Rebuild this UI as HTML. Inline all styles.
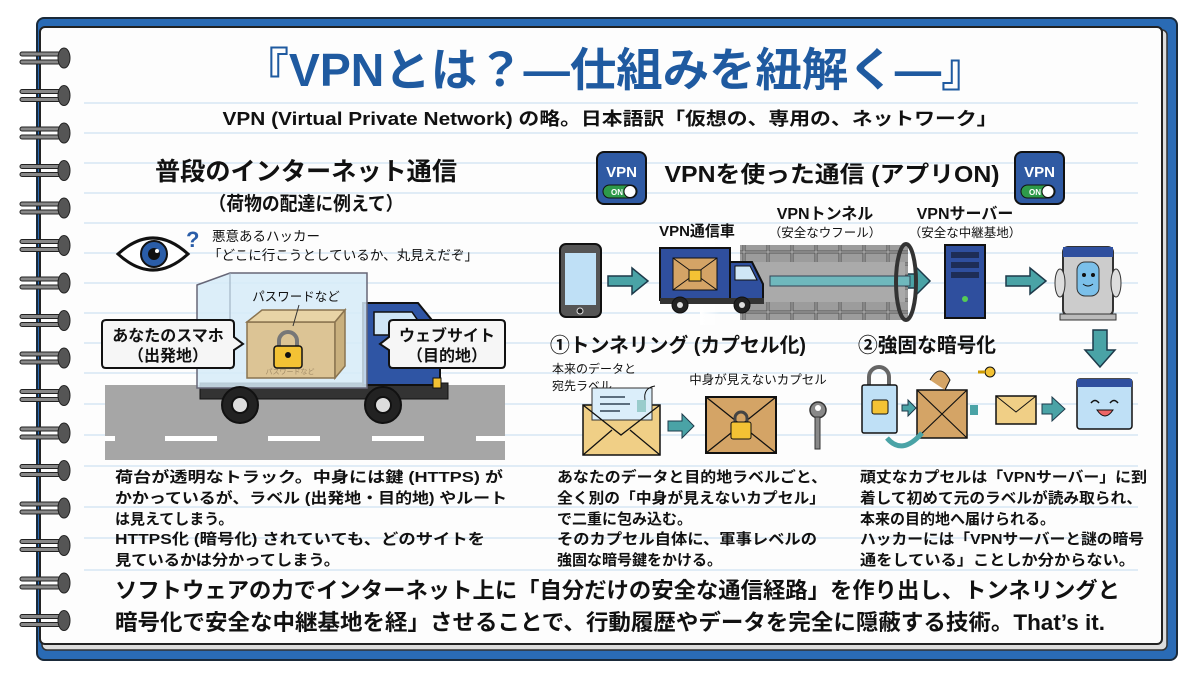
<!DOCTYPE html>
<html><head><meta charset="utf-8"><style>
html,body{margin:0;padding:0;background:#fff;}
svg{display:block;}
text{font-family:"Liberation Sans","Noto Sans CJK JP",sans-serif;fill:#111;}
.b{font-weight:bold;}
</style></head><body>
<svg width="1200" height="675" viewBox="0 0 1200 675" xmlns="http://www.w3.org/2000/svg">
<defs>
<pattern id="brick" width="24" height="12" patternUnits="userSpaceOnUse">
<rect width="24" height="12" fill="#b8b8b8"/>
<rect x="1" y="1" width="22" height="10" fill="#9c9c9c" stroke="#555" stroke-width="1"/>
</pattern>
<linearGradient id="fade" x1="0" x2="1"><stop offset="0" stop-color="#fff" stop-opacity="1"/><stop offset="0.25" stop-color="#fff" stop-opacity="0"/></linearGradient>
</defs>
<!-- cover -->
<rect x="37" y="18" width="1140" height="642" rx="7" fill="#2a6bb5" stroke="#1a2a3a" stroke-width="2"/>
<rect x="42" y="30" width="1125" height="620" rx="5" fill="#ddd" stroke="#333" stroke-width="1.5"/>
<rect x="40" y="27" width="1122" height="617" rx="5" fill="#fdfdfd" stroke="#222" stroke-width="2"/>
<!-- ruled lines -->
<g stroke="#cfe3f2" stroke-width="1.2">
<line x1="84" y1="103" x2="1138" y2="103"/><line x1="84" y1="133" x2="1138" y2="133"/><line x1="84" y1="163" x2="1138" y2="163"/><line x1="84" y1="193" x2="1138" y2="193"/><line x1="84" y1="223" x2="1138" y2="223"/><line x1="84" y1="253" x2="1138" y2="253"/><line x1="84" y1="283" x2="1138" y2="283"/><line x1="84" y1="313" x2="1138" y2="313"/><line x1="84" y1="343" x2="1138" y2="343"/><line x1="84" y1="373" x2="1138" y2="373"/><line x1="84" y1="404" x2="1138" y2="404"/><line x1="84" y1="435" x2="1138" y2="435"/><line x1="84" y1="466" x2="1138" y2="466"/><line x1="84" y1="507" x2="1138" y2="507"/><line x1="84" y1="538" x2="1138" y2="538"/><line x1="84" y1="570" x2="1138" y2="570"/>
</g>
<!-- spiral rings -->
<g id="rings">
<g transform="translate(0,58)"><rect x="20" y="-6" width="46" height="4" rx="2" fill="#888" stroke="#222"/><rect x="20" y="2" width="46" height="4" rx="2" fill="#888" stroke="#222"/><ellipse cx="64" cy="0" rx="6" ry="10" fill="#555" stroke="#222"/></g>
</g>
<use href="#rings" y="37.5"/><use href="#rings" y="75"/><use href="#rings" y="112.5"/><use href="#rings" y="150"/><use href="#rings" y="187.5"/><use href="#rings" y="225"/><use href="#rings" y="262.5"/><use href="#rings" y="300"/><use href="#rings" y="337.5"/><use href="#rings" y="375"/><use href="#rings" y="412.5"/><use href="#rings" y="450"/><use href="#rings" y="487.5"/><use href="#rings" y="525"/><use href="#rings" y="562.5"/>

<!-- title -->
<text x="615" y="86" text-anchor="middle" class="b" font-size="46" style="fill:#1f5aa0" textLength="745" lengthAdjust="spacingAndGlyphs">『VPNとは？―仕組みを紐解く―』</text>
<text x="610" y="125" text-anchor="middle" class="b" font-size="18" textLength="775" lengthAdjust="spacingAndGlyphs">VPN (Virtual Private Network) の略。日本語訳「仮想の、専用の、ネットワーク」</text>

<!-- left heading -->
<text x="306" y="180" text-anchor="middle" class="b" font-size="25" textLength="302" lengthAdjust="spacingAndGlyphs">普段のインターネット通信</text>
<text x="306" y="210" text-anchor="middle" class="b" font-size="19" textLength="195" lengthAdjust="spacingAndGlyphs">（荷物の配達に例えて）</text>

<!-- eye -->
<path d="M118 254 Q153 222 188 254 Q153 286 118 254Z" fill="#fff" stroke="#111" stroke-width="3"/>
<circle cx="154" cy="254" r="13" fill="#2a5da8" stroke="#111" stroke-width="2"/>
<circle cx="154" cy="254" r="6" fill="#111"/><circle cx="157" cy="251" r="2" fill="#fff"/>
<text x="186" y="247" class="b" font-size="22" style="fill:#2a5da8">?</text>
<text x="212" y="241" font-size="13.5">悪意あるハッカー</text>
<text x="208" y="260" font-size="13.5" textLength="270" lengthAdjust="spacingAndGlyphs">「どこに行こうとしているか、丸見えだぞ」</text>

<!-- road -->
<rect x="105" y="385" width="400" height="75" fill="#a6a6a6"/>
<g fill="#fff"><rect x="105" y="436" width="10" height="5"/><rect x="165" y="436" width="52" height="5"/><rect x="268" y="436" width="52" height="5"/><rect x="372" y="436" width="52" height="5"/><rect x="476" y="436" width="29" height="5"/></g>
<!-- truck -->
<rect x="200" y="383" width="248" height="16" fill="#333" stroke="#111"/>
<path d="M363 303 L418 303 L440 330 L440 385 L363 385Z" fill="#2f55a4" stroke="#111" stroke-width="2"/>
<path d="M374 312 L412 312 L428 335 L374 335Z" fill="#cfe6f6" stroke="#111" stroke-width="1.5"/>
<rect x="433" y="378" width="8" height="10" fill="#f3c234" stroke="#111"/>
<path d="M197 285 L230 273 L367 273 L367 388 L197 388Z" fill="#d6ebf8" fill-opacity="0.85" stroke="#667" stroke-width="1.5"/>
<line x1="230" y1="273" x2="230" y2="370" stroke="#9ab"/>
<rect x="247" y="322" width="88" height="56" fill="#dcc495" stroke="#8a7450" stroke-width="1.5"/>
<path d="M247 322 L262 310 L345 310 L335 322Z" fill="#e8d4a6" stroke="#8a7450" stroke-width="1.5"/>
<path d="M335 322 L345 310 L345 366 L335 378Z" fill="#c9b07e" stroke="#8a7450" stroke-width="1.5"/>
<path d="M279 347 v-6 a9 9 0 0 1 18 0 v6" fill="none" stroke="#777" stroke-width="4"/>
<rect x="274" y="346" width="28" height="22" rx="3" fill="#f3c234" stroke="#111" stroke-width="1.5"/>
<circle cx="288" cy="355" r="3" fill="#111"/>
<line x1="299" y1="305" x2="293" y2="326" stroke="#333"/>
<text x="296" y="301" text-anchor="middle" font-size="12.5">パスワードなど</text>
<text x="290" y="374" text-anchor="middle" font-size="7" style="fill:#a08a66">パスワードなど</text>
<g stroke="#111" stroke-width="2"><circle cx="240" cy="405" r="18" fill="#222"/><circle cx="240" cy="405" r="8" fill="#ddd"/><circle cx="383" cy="405" r="18" fill="#222"/><circle cx="383" cy="405" r="8" fill="#ddd"/></g>
<!-- bubbles -->
<path d="M106 320 H230 Q234 320 234 324 V337 L243 344 L234 350 V364 Q234 368 230 368 H106 Q102 368 102 364 V324 Q102 320 106 320Z" fill="#f6f6f6" stroke="#111" stroke-width="2"/>
<text x="168" y="341" text-anchor="middle" class="b" font-size="16">あなたのスマホ</text>
<text x="168" y="361" text-anchor="middle" class="b" font-size="16">（出発地）</text>
<path d="M393 320 H501 Q505 320 505 324 V364 Q505 368 501 368 H393 Q389 368 389 364 V350 L380 344 L389 337 V324 Q389 320 393 320Z" fill="#f6f6f6" stroke="#111" stroke-width="2"/>
<text x="447" y="341" text-anchor="middle" class="b" font-size="16">ウェブサイト</text>
<text x="447" y="361" text-anchor="middle" class="b" font-size="16">（目的地）</text>

<!-- right heading -->
<g id="vpnic"><rect x="597" y="152" width="49" height="52" rx="7" fill="#2f5aa3" stroke="#111" stroke-width="2"/><text x="621.5" y="177" text-anchor="middle" class="b" font-size="15" style="fill:#fff">VPN</text><rect x="603" y="185" width="34" height="13" rx="6.5" fill="#2e9a4a" stroke="#111"/><circle cx="630" cy="191.5" r="6" fill="#fff" stroke="#111"/><text x="611" y="195" font-size="8" class="b" style="fill:#fff">ON</text></g>
<use href="#vpnic" x="418"/>
<text x="832" y="182" text-anchor="middle" class="b" font-size="23" textLength="335" lengthAdjust="spacingAndGlyphs">VPNを使った通信 (アプリON)</text>

<text x="697" y="236" text-anchor="middle" class="b" font-size="15">VPN通信車</text>
<text x="825" y="219" text-anchor="middle" class="b" font-size="16">VPNトンネル</text>
<text x="825" y="237" text-anchor="middle" font-size="12.5">（安全なウフール）</text>
<text x="965" y="219" text-anchor="middle" class="b" font-size="16">VPNサーバー</text>
<text x="965" y="237" text-anchor="middle" font-size="12.5">（安全な中継基地）</text>

<!-- phone -->
<rect x="560" y="244" width="41" height="73" rx="6" fill="#555" stroke="#111" stroke-width="2"/>
<rect x="565" y="253" width="31" height="52" fill="#bfe0f6"/>
<circle cx="580" cy="311" r="3" fill="#222" stroke="#ddd"/>
<!-- arrows -->
<g fill="#4aa3a6" stroke="#1d3a4a" stroke-width="1.5">
<path d="M608 276 H632 V268 L648 281 L632 294 V286 H608Z"/>
<path d="M1006 276 H1030 V268 L1046 281 L1030 294 V286 H1006Z"/>
<path d="M1093 330 H1107 V350 H1115 L1100 367 L1085 350 H1093Z"/>
<path d="M903 274 H915 V266 L930 281 L915 296 V288 H903Z"/>
</g>
<!-- tunnel -->
<rect x="740" y="245" width="168" height="75" fill="url(#brick)"/>
<rect x="740" y="262" width="165" height="40" fill="#aaa"/>
<rect x="770" y="276" width="140" height="10" fill="#6fb8bd" stroke="#345"/>
<rect x="700" y="240" width="80" height="85" fill="url(#fade)"/>
<ellipse cx="906" cy="282" rx="10" ry="38" fill="none" stroke="#333" stroke-width="4"/>
<!-- vpn truck -->
<rect x="660" y="248" width="70" height="52" fill="#2f4f9e" stroke="#111" stroke-width="2"/>
<rect x="673" y="258" width="44" height="32" fill="#d4a466" stroke="#111"/>
<path d="M673 258 L717 290 M717 258 L673 290" stroke="#111"/>
<rect x="689" y="270" width="12" height="11" fill="#f3c234" stroke="#111"/>
<path d="M730 262 L752 262 L763 284 L763 300 L730 300Z" fill="#2f4f9e" stroke="#111" stroke-width="2"/>
<path d="M735 266 L750 266 L757 280 L735 280Z" fill="#cfe6f6" stroke="#111"/>
<rect x="660" y="298" width="104" height="6" fill="#333"/>
<circle cx="680" cy="305" r="8" fill="#222" stroke="#111"/><circle cx="680" cy="305" r="3" fill="#ddd"/>
<circle cx="742" cy="305" r="8" fill="#222" stroke="#111"/><circle cx="742" cy="305" r="3" fill="#ddd"/>
<!-- server -->
<rect x="945" y="245" width="40" height="73" fill="#2f4f9e" stroke="#111" stroke-width="2"/>
<rect x="951" y="252" width="28" height="6" fill="#1e2d55"/><rect x="951" y="262" width="28" height="6" fill="#1e2d55"/><rect x="951" y="272" width="28" height="6" fill="#1e2d55"/>
<circle cx="965" cy="299" r="3" fill="#5c5"/>
<!-- robot site -->
<rect x="1063" y="247" width="50" height="68" rx="5" fill="#ccc" stroke="#333" stroke-width="2"/>
<rect x="1063" y="247" width="50" height="10" fill="#2f4f9e"/>
<ellipse cx="1060" cy="283" rx="5" ry="14" fill="#ddd" stroke="#333"/><ellipse cx="1116" cy="283" rx="5" ry="14" fill="#ddd" stroke="#333"/>
<rect x="1077" y="262" width="22" height="34" rx="8" fill="#7bc0ea" stroke="#333"/>
<circle cx="1084" cy="275" r="2" fill="#111"/><circle cx="1093" cy="275" r="2" fill="#111"/>
<path d="M1083 284 q5 4 10 0" stroke="#111" fill="none"/>
<rect x="1060" y="314" width="56" height="6" fill="#bbb" stroke="#333"/>

<!-- sections -->
<text x="550" y="352" class="b" font-size="20" textLength="256" lengthAdjust="spacingAndGlyphs">①トンネリング (カプセル化)</text>
<text x="858" y="352" class="b" font-size="20" textLength="138" lengthAdjust="spacingAndGlyphs">②強固な暗号化</text>
<text x="552" y="373" font-size="12">本来のデータと</text>
<text x="552" y="390" font-size="12">宛先ラベル</text>
<text x="758" y="384" text-anchor="middle" font-size="12.5">中身が見えないカプセル</text>
<!-- envelope open -->
<rect x="583" y="405" width="77" height="50" fill="#f0cf86" stroke="#111" stroke-width="1.5"/>
<rect x="592" y="388" width="60" height="32" fill="#dbeefa" stroke="#333"/>
<path d="M600 397 H625 M600 404 H630 M600 411 H620" stroke="#345" stroke-width="1.5"/>
<rect x="637" y="400" width="9" height="12" fill="#9cc" />
<path d="M583 405 L621 435 L660 405 M583 455 L612 430 M660 455 L630 430" stroke="#111" fill="none" stroke-width="1.3"/>
<path d="M645 400 q-2 -12 10 -14" stroke="#111" fill="none"/>
<path d="M668 421 H682 V414 L694 426 L682 438 V431 H668Z" fill="#4aa3a6" stroke="#1d3a4a"/>
<!-- capsule envelope -->
<rect x="706" y="397" width="70" height="56" fill="#d4a466" stroke="#111" stroke-width="2"/>
<path d="M706 397 L776 453 M776 397 L706 453" stroke="#111" stroke-width="1.3"/>
<path d="M735 423 v-5 a6 6 0 0 1 12 0 v5" fill="none" stroke="#444" stroke-width="3"/>
<rect x="731" y="422" width="20" height="17" rx="2" fill="#f3c234" stroke="#111"/>
<circle cx="818" cy="410" r="8" fill="#888" stroke="#333" stroke-width="1.5"/><circle cx="818" cy="408" r="3" fill="#fff"/>
<rect x="815" y="417" width="5" height="32" fill="#888" stroke="#333"/>
<!-- encryption -->
<path d="M869 387 v-10 a10 10 0 0 1 20 0 v10" fill="none" stroke="#666" stroke-width="4"/>
<rect x="862" y="385" width="35" height="48" rx="2" fill="#bfe0f6" stroke="#111" stroke-width="1.5"/>
<rect x="872" y="400" width="16" height="14" rx="2" fill="#f3c234" stroke="#111"/>
<path d="M902 405 H908 V400 L916 408 L908 416 V411 H902Z" fill="#4aa3a6" stroke="#1d3a4a"/>
<rect x="917" y="390" width="50" height="48" fill="#d4a466" stroke="#111" stroke-width="1.5"/>
<path d="M917 390 L967 438 M967 390 L917 438" stroke="#111" stroke-width="1.2"/>
<path d="M930 380 q10 -18 20 0 l-5 10" fill="#d4a466" stroke="#111"/>
<circle cx="990" cy="372" r="5" fill="#f3c234" stroke="#111"/><path d="M978 372 H985" stroke="#c90" stroke-width="3"/>
<rect x="970" y="405" width="8" height="10" fill="#4aa3a6"/>
<rect x="996" y="396" width="40" height="28" fill="#f0cf86" stroke="#111" stroke-width="1.5"/>
<path d="M996 396 L1016 412 L1036 396" stroke="#111" fill="none"/>
<path d="M1042 404 H1052 V397 L1065 409 L1052 421 V414 H1042Z" fill="#4aa3a6" stroke="#1d3a4a"/>
<path d="M887 438 q15 18 35 -5" fill="none" stroke="#4aa3a6" stroke-width="5"/>
<rect x="1077" y="379" width="55" height="50" rx="3" fill="#bfe0f6" stroke="#111" stroke-width="1.5"/>
<rect x="1077" y="379" width="55" height="8" fill="#2f4f9e"/>
<path d="M1091 403 q4 -5 8 0 M1110 403 q4 -5 8 0" stroke="#111" fill="none" stroke-width="1.5"/>
<path d="M1097 410 h16 q-8 12 -16 0Z" fill="#e66" stroke="#111"/>

<!-- body paragraphs -->
<g font-size="15" class="b">
<text x="115" y="482" textLength="388" lengthAdjust="spacingAndGlyphs">荷台が透明なトラック。中身には鍵 (HTTPS) が</text>
<text x="115" y="503" textLength="392" lengthAdjust="spacingAndGlyphs">かかっているが、ラベル (出発地・目的地) やルート</text>
<text x="115" y="524">は見えてしまう。</text>
<text x="115" y="544" textLength="370" lengthAdjust="spacingAndGlyphs">HTTPS化 (暗号化) されていても、どのサイトを</text>
<text x="115" y="565" textLength="225" lengthAdjust="spacingAndGlyphs">見ているかは分かってしまう。</text>
<text x="557" y="482" textLength="270" lengthAdjust="spacingAndGlyphs">あなたのデータと目的地ラベルごと、</text>
<text x="557" y="503" textLength="268" lengthAdjust="spacingAndGlyphs">全く別の「中身が見えないカプセル」</text>
<text x="557" y="524">で二重に包み込む。</text>
<text x="557" y="544" textLength="260" lengthAdjust="spacingAndGlyphs">そのカプセル自体に、軍事レベルの</text>
<text x="557" y="565">強固な暗号鍵をかける。</text>
<text x="860" y="482" textLength="287" lengthAdjust="spacingAndGlyphs">頑丈なカプセルは「VPNサーバー」に到</text>
<text x="860" y="503" textLength="282" lengthAdjust="spacingAndGlyphs">着して初めて元のラベルが読み取られ、</text>
<text x="860" y="524">本来の目的地へ届けられる。</text>
<text x="860" y="544" textLength="284" lengthAdjust="spacingAndGlyphs">ハッカーには「VPNサーバーと謎の暗号</text>
<text x="860" y="565" textLength="275" lengthAdjust="spacingAndGlyphs">通をしている」ことしか分からない。</text>
</g>
<text x="115" y="598" class="b" font-size="22" textLength="1005" lengthAdjust="spacingAndGlyphs">ソフトウェアの力でインターネット上に「自分だけの安全な通信経路」を作り出し、トンネリングと</text>
<text x="115" y="630" class="b" font-size="22" textLength="990" lengthAdjust="spacingAndGlyphs">暗号化で安全な中継基地を経」させることで、行動履歴やデータを完全に隠蔽する技術。That’s it.</text>
</svg>
</body></html>
